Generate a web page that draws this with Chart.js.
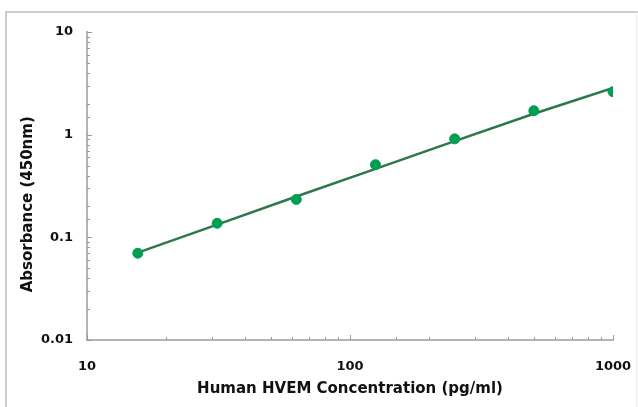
<!DOCTYPE html>
<html>
<head>
<meta charset="utf-8">
<script src="https://cdn.jsdelivr.net/npm/chart.js@4"></script>
<style>
  html, body { margin: 0; padding: 0; background: #fff; }
  #wrap { width: 638px; height: 407px; }
</style>
</head>
<body>
<div id="wrap"><canvas id="c" width="638" height="407"></canvas></div>
<script>
// standard concentrations (pg/ml) and measured OD
const concentrations = [15.6, 31.25, 62.5, 125, 250, 500, 1000];
const absorbance = [0.07, 0.137, 0.234, 0.51, 0.91, 1.71, 2.62];
// curve
const fitValues = [0.071, 0.133, 0.25, 0.465, 0.865, 1.6, 2.85];
const xLabels = [10, 100, 1000];
const yLabels = [0.01, 0.1, 1, 10];

const green = 'rgb(0,158,82)';
const lineGreen = 'rgb(45,120,75)';

// frame round the picture
const framePlugin = {
  id: 'frame',
  beforeDraw(chart) {
    const ctx = chart.ctx;
    ctx.save();
    ctx.strokeStyle = '#cdcdcd';
    ctx.lineWidth = 2;
    ctx.beginPath();
    ctx.moveTo(5, 12); ctx.lineTo(638, 12);
    ctx.moveTo(6, 12); ctx.lineTo(6, 407);
    ctx.stroke();
    ctx.strokeStyle = '#eeeeee';
    ctx.lineWidth = 1;
    ctx.beginPath();
    ctx.moveTo(636.5, 12); ctx.lineTo(636.5, 407);
    ctx.stroke();
    ctx.restore();
  }
};

// small tick marks pointing into the plot
const innerTicks = {
  id: 'innerTicks',
  afterDatasetsDraw(chart) {
    const ctx = chart.ctx;
    const x = chart.scales.x, y = chart.scales.y;
    ctx.save();
    ctx.strokeStyle = '#9a9a9a';
    ctx.lineWidth = 1;
    ctx.beginPath();
    x.ticks.forEach(t => {
      const px = Math.round(x.getPixelForValue(t.value)) + 0.5;
      const len = xLabels.includes(t.value) ? 5 : 3;
      ctx.moveTo(px, y.bottom); ctx.lineTo(px, y.bottom - len);
    });
    y.ticks.forEach(t => {
      const py = Math.round(y.getPixelForValue(t.value)) + 0.5;
      const len = yLabels.includes(t.value) ? 5 : 3;
      ctx.moveTo(x.left, py); ctx.lineTo(x.left + len, py);
    });
    ctx.stroke();
    ctx.restore();
  }
};

const tickFont = { family: 'DejaVu Sans', size: 13, weight: 'bold' };
const titleFont = { family: 'DejaVu Sans', size: 15, weight: 'bold' };

new Chart(document.getElementById('c'), {
  type: 'scatter',
  data: {
    datasets: [
      {
        label: 'fit',
        data: concentrations.map((c, i) => ({ x: c, y: fitValues[i] })),
        showLine: true,
        borderColor: lineGreen,
        borderWidth: 2.5,
        pointRadius: 0,
        fill: false,
        order: 2
      },
      {
        label: 'standards',
        data: concentrations.map((c, i) => ({ x: c, y: absorbance[i] })),
        backgroundColor: green,
        borderColor: green,
        pointRadius: 5,
        order: 1
      }
    ]
  },
  options: {
    responsive: false,
    animation: false,
    layout: { padding: { left: 0, right: 25, top: 32, bottom: 0 } },
    plugins: { legend: { display: false }, tooltip: { enabled: false } },
    scales: {
      x: {
        type: 'logarithmic',
        min: 10,
        max: 1000,
        afterFit(s) { s.height = 67; s.paddingLeft = 0; s.paddingRight = 0; },
        grid: { display: false, drawTicks: false },
        border: { display: true, color: '#b4b4b4', width: 2 },
        ticks: {
          autoSkip: false,
          maxRotation: 0,
          padding: 19,
          color: '#111',
          font: tickFont,
          callback: v => xLabels.includes(v) ? String(v) : ''
        },
        title: {
          display: true,
          text: 'Human HVEM Concentration (pg/ml)',
          color: '#111',
          font: titleFont,
          padding: { top: 0, bottom: 9 }
        }
      },
      y: {
        type: 'logarithmic',
        min: 0.01,
        max: 10,
        afterFit(s) { s.width = 87; s.paddingTop = 0; s.paddingBottom = 0; },
        grid: { display: false, drawTicks: false },
        border: { display: true, color: '#b4b4b4', width: 2 },
        ticks: {
          autoSkip: false,
          padding: 14,
          color: '#111',
          font: tickFont,
          callback: v => yLabels.includes(v) ? String(v) : ''
        },
        title: {
          display: true,
          // trailing spaces push the title down like in the source image
          text: 'Absorbance (450nm)       ',
          color: '#111',
          font: titleFont,
          padding: { top: 19, bottom: 0 }
        }
      }
    }
  },
  plugins: [framePlugin, innerTicks]
});
</script>
</body>
</html>
